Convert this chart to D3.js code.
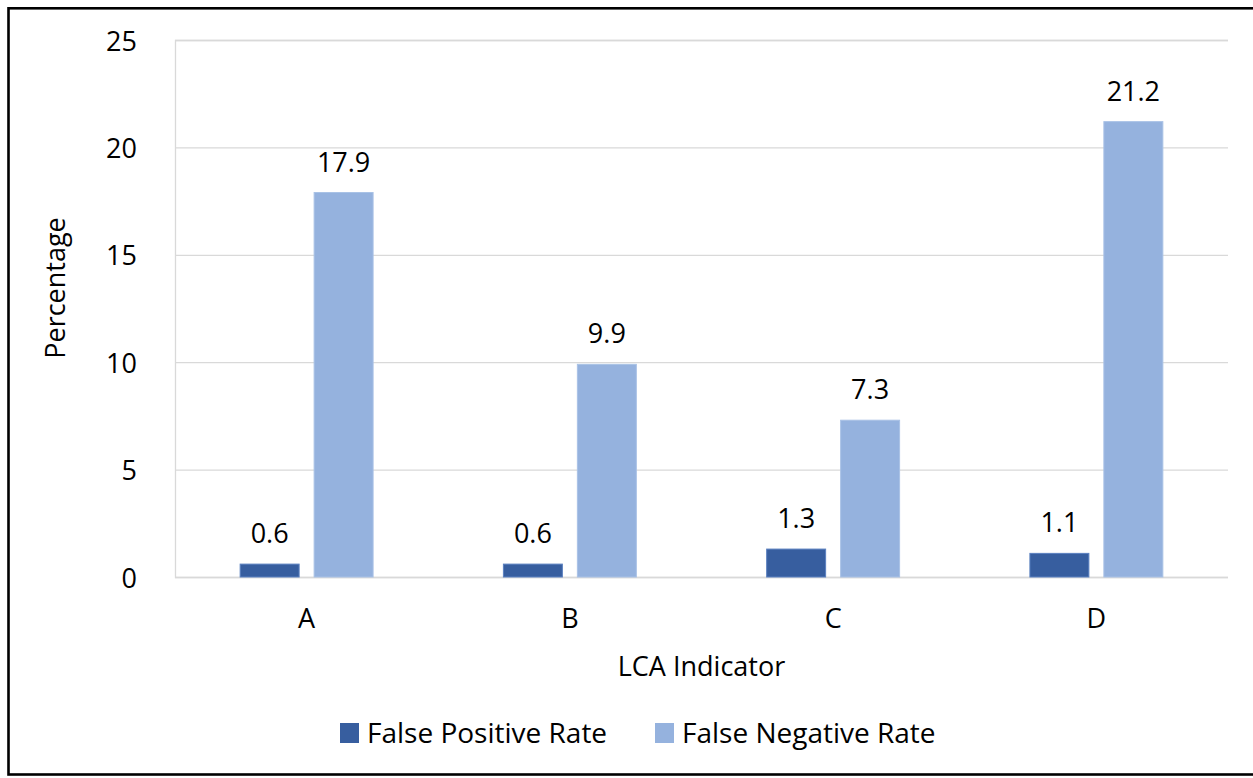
<!DOCTYPE html>
<html>
<head>
<meta charset="utf-8">
<script src="https://cdn.jsdelivr.net/npm/d3@7/dist/d3.min.js"></script>
<style>
  html, body { margin: 0; padding: 0; background: #fff; }
  svg { display: block; }
  text { font-family: "Open Sans", "Noto Sans", sans-serif; fill: #000; }
</style>
</head>
<body>
<svg id="chart" width="1253" height="778"></svg>
<script>
// Error rates per LCA indicator (percent)
const categories = ["A", "B", "C", "D"];
const seriesNames = ["False Positive Rate", "False Negative Rate"];
const falsePositive = [0.6, 0.6, 1.3, 1.1];
const falseNegative = [17.9, 9.9, 7.3, 21.2];
const yTicks = [0, 5, 10, 15, 20, 25];

const colors = { "False Positive Rate": "#375E9F", "False Negative Rate": "#95B2DE" };
const strokes = { "False Positive Rate": "#5B80C0", "False Negative Rate": "#A9C2E6" };

const svg = d3.select("#chart");
const plot = { left: 175, right: 1228, top: 40, bottom: 577 };
const FS = 27;

const rows = categories.map((c, i) => ({
  cat: c,
  values: [
    { key: seriesNames[0], value: falsePositive[i] },
    { key: seriesNames[1], value: falseNegative[i] }
  ]
}));

const x = d3.scaleBand()
  .domain(categories)
  .range([plot.left, plot.right])
  .paddingInner(0.495)
  .paddingOuter(0.2475);

const xInner = d3.scaleBand()
  .domain(seriesNames)
  .range([0, x.bandwidth()])
  .paddingInner(0.2027);

const y = d3.scaleLinear().domain([0, 25]).range([plot.bottom, plot.top]);

// Outer frame
svg.append("rect")
  .attr("x", 8.5).attr("y", 8.3)
  .attr("width", 1270).attr("height", 766.2)
  .attr("fill", "none").attr("stroke", "#000").attr("stroke-width", 2.6);

// Horizontal gridlines + left edge line
const yAxis = d3.axisLeft(y).tickValues(yTicks)
  .tickSize(-(plot.right - plot.left)).tickFormat(d3.format("d"));
const gy = svg.append("g").attr("transform", `translate(${plot.left},0)`).call(yAxis);
gy.select(".domain").attr("stroke", "#D9D9D9").attr("stroke-width", 1.3);
gy.selectAll(".tick line").attr("stroke", "#D9D9D9").attr("stroke-width", 1.3);
gy.selectAll(".tick text")
  .attr("x", -38).attr("dy", null).attr("y", 10)
  .attr("text-anchor", "end")
  .style("font-size", FS + "px")
  .style("font-family", "'Open Sans', sans-serif")
  .attr("fill", "#000");

// Category axis labels
const xAxis = d3.axisBottom(x).tickSize(0).tickPadding(0);
const gx = svg.append("g").attr("transform", `translate(0,${plot.bottom})`).call(xAxis);
gx.select(".domain").remove();
gx.selectAll(".tick text")
  .attr("y", 51).attr("dy", null)
  .style("font-size", FS + "px")
  .style("font-family", "'Open Sans', sans-serif")
  .attr("fill", "#000");

// Bars
const groups = svg.append("g").selectAll("g")
  .data(rows).join("g")
  .attr("transform", d => `translate(${x(d.cat)},0)`);

groups.selectAll("rect")
  .data(d => d.values).join("rect")
  .attr("x", d => xInner(d.key))
  .attr("width", xInner.bandwidth())
  .attr("y", d => y(d.value))
  .attr("height", d => y(0) - y(d.value))
  .attr("fill", d => colors[d.key])
  .attr("stroke", d => strokes[d.key])
  .attr("stroke-width", 1);

// Value labels
groups.selectAll("text.val")
  .data(d => d.values).join("text")
  .attr("class", "val")
  .attr("x", d => xInner(d.key) + xInner.bandwidth() / 2)
  .attr("y", d => y(d.value) - 21)
  .attr("text-anchor", "middle")
  .style("font-size", FS + "px")
  .text(d => d.value.toFixed(1));

// Axis titles
svg.append("text")
  .attr("x", (plot.left + plot.right) / 2).attr("y", 676)
  .attr("text-anchor", "middle")
  .style("font-size", FS + "px")
  .text("LCA Indicator");

svg.append("text")
  .attr("transform", "translate(65,288) rotate(-90)")
  .attr("text-anchor", "middle")
  .style("font-size", FS + "px")
  .text("Percentage");

// Legend
const legendX = [340, 655];
const legend = svg.append("g").selectAll("g")
  .data(seriesNames).join("g")
  .attr("transform", (d, i) => `translate(${legendX[i]},723)`);
legend.append("rect")
  .attr("width", 19).attr("height", 20)
  .attr("fill", d => colors[d]);
legend.append("text")
  .attr("x", 27).attr("y", 20)
  .style("font-size", "28px")
  .text(d => d);
</script>
</body>
</html>
